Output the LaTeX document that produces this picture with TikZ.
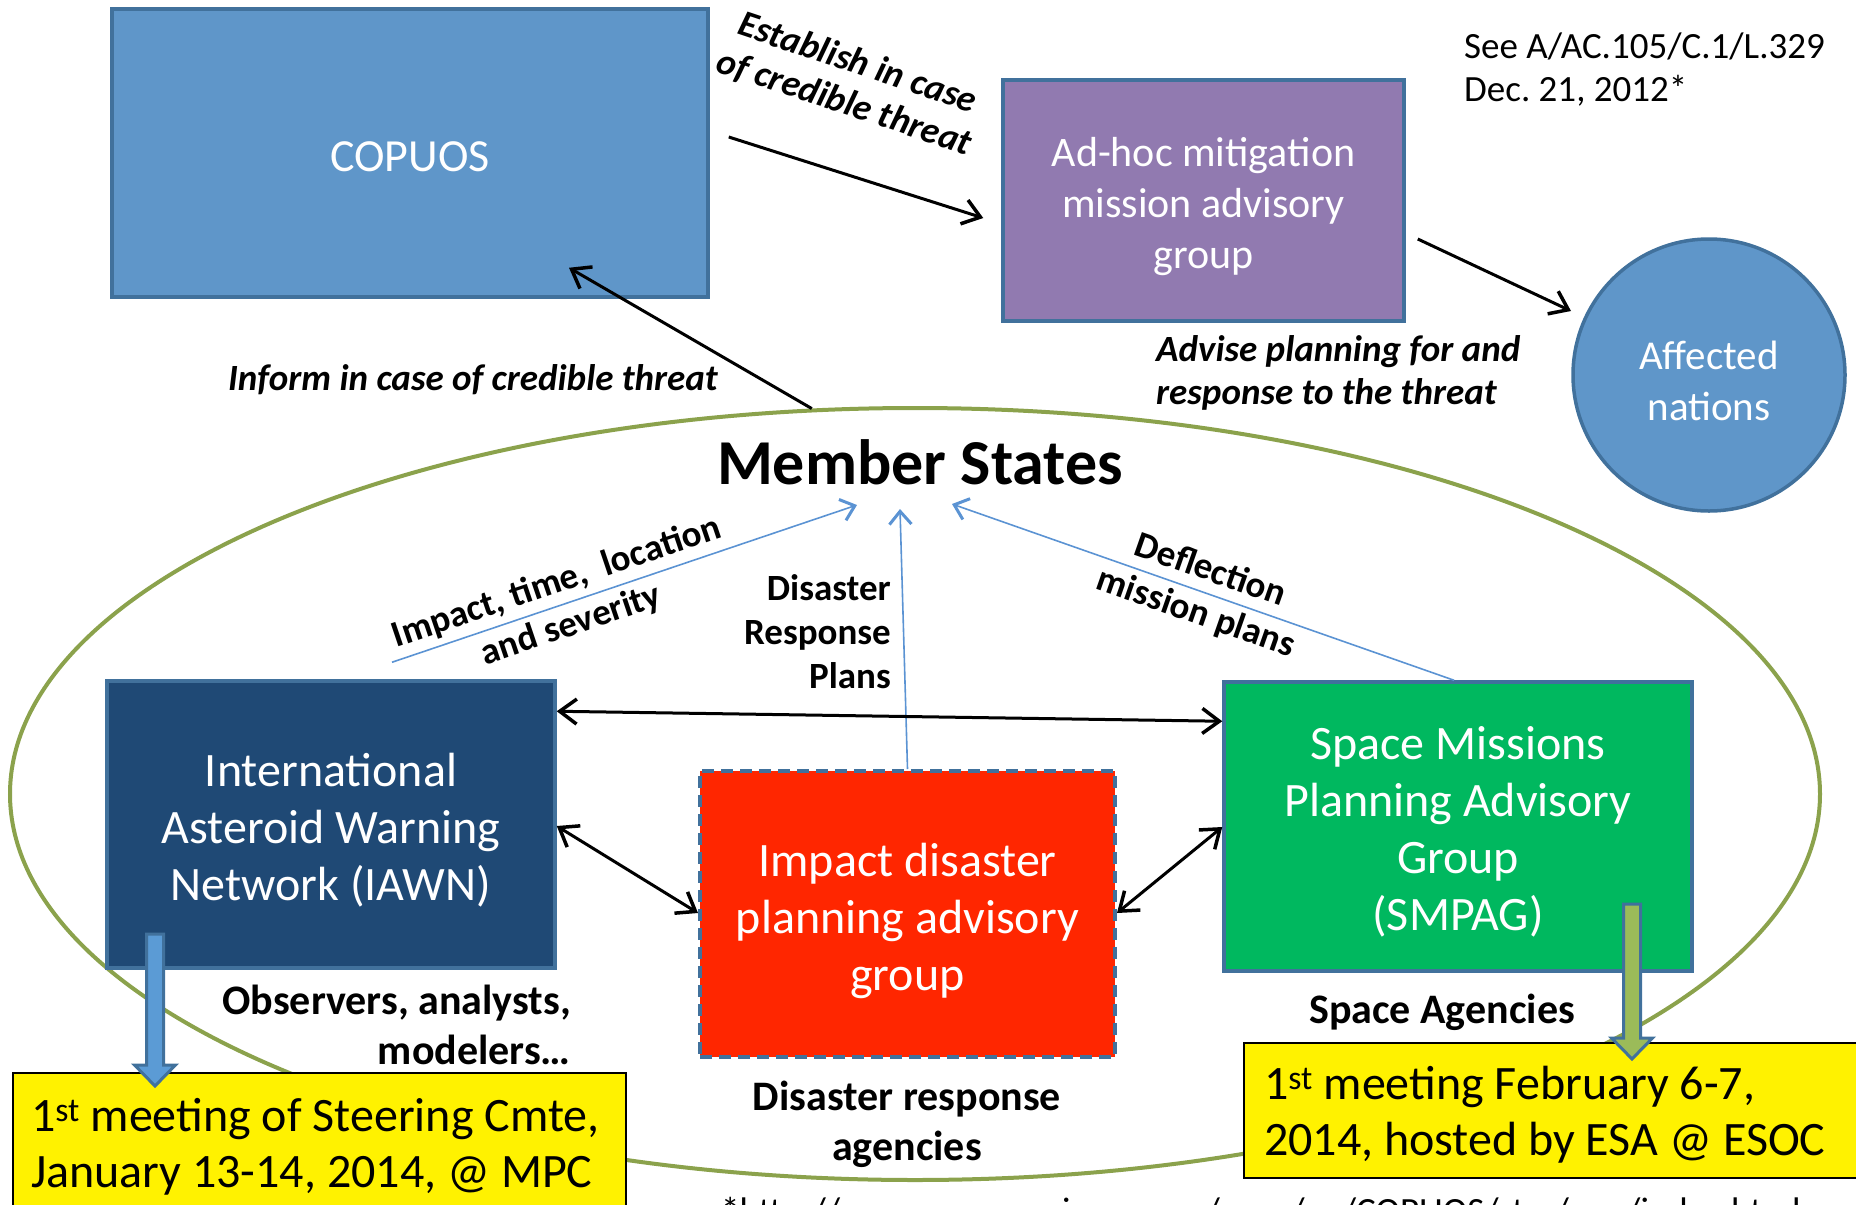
\documentclass[tikz,border=0pt]{standalone}
\usepackage{fontspec}
\setmainfont{Carlito}
\usetikzlibrary{arrows.meta,calc,shapes.geometric}
\definecolor{boxblue}{HTML}{5F96C9}
\definecolor{edgeblue}{HTML}{41719C}
\definecolor{purp}{HTML}{917AB0}
\definecolor{navy}{HTML}{1F4975}
\definecolor{redb}{HTML}{FF2600}
\definecolor{greenb}{HTML}{00B85F}
\definecolor{olive}{HTML}{8BA24C}
\definecolor{oliveL}{HTML}{9BBB59}
\definecolor{lineblue}{HTML}{5B93D3}
\definecolor{fatblue}{HTML}{5B9BD5}
\begin{document}
\begin{tikzpicture}[x=1pt,y=-1pt,
  box/.style={draw=edgeblue, line width=3.5pt, inner sep=0pt, text=white, align=flush center, execute at begin node={\spaceskip=0pt\xspaceskip=0pt}},
  lbl/.style={inner sep=0pt, text=black, font=\bfseries\fontsize{37}{44}\selectfont},
  lbli/.style={inner sep=0pt, text=black, font=\bfseries\itshape\fontsize{37}{43}\selectfont},
  blk/.style={black, line width=3pt, arrows={-{Straight Barb[length=17pt,width=25pt,line width=3.5pt]}}},
  dbl/.style={black, line width=3pt, arrows={{Straight Barb[length=17pt,width=25pt,line width=3.5pt]}-{Straight Barb[length=17pt,width=25pt,line width=3.5pt]}}},
  blu/.style={lineblue, line width=1.6pt, arrows={-{Straight Barb[length=13pt,width=22pt,line width=3pt]}}},
  yel/.style={draw=black, fill=yellow, line width=2pt, anchor=north west, inner ysep=0pt, align=flush left, execute at begin node={\spaceskip=0pt\xspaceskip=0pt}, font=\fontsize{48}{56}\selectfont},
  fat/.style={draw=edgeblue, line width=3pt, line join=miter}
]
\useasboundingbox (0,0) rectangle (1856,1205);
\clip (0,0) rectangle (1856,1205);

% Member States group
\node[ellipse, draw=olive, line width=4pt, minimum width=1810pt, minimum height=772pt, inner sep=0pt] (msell) at (915,794) {};
\node[inner sep=0pt, font=\bfseries\fontsize{64}{75}\selectfont] (mstitle) at (920,462) {Member States};

% boxes
\node[box, fill=boxblue, minimum width=596pt, minimum height=288pt, text width=576pt, text height=162pt, text depth=126pt, font=\fontsize{46}{55}\selectfont] (copuos) at (410,153) {COPUOS};
\node[box, fill=purp, minimum width=401pt, minimum height=241pt, text width=381pt, text height=86.6pt, text depth=154.4pt, font=\fontsize{42}{51}\selectfont] (adhoc) at (1203.5,200.5) {Ad-hoc mitigation\\mission advisory\\group};
\node[circle, draw=edgeblue, fill=boxblue, line width=3.5pt, minimum size=272pt, inner sep=0pt, text=white, align=center, font=\fontsize{41}{51}\selectfont] (aff) at (1709,375) {\rule{0pt}{40pt}Affected\\nations};
\node[box, fill=navy, minimum width=448pt, minimum height=287pt, text width=428pt, text height=105.4pt, text depth=181.6pt, font=\fontsize{48}{57}\selectfont] (iawn) at (331,824.5) {International\\Asteroid Warning\\Network (IAWN)};
\node[box, fill=redb, line width=4pt, dash pattern=on 12pt off 7pt, minimum width=415pt, minimum height=286pt, text width=395pt, text height=105.4pt, text depth=180.6pt, font=\fontsize{48}{57}\selectfont] (idpag) at (907.5,914) {Impact disaster\\planning advisory\\group};
\node[box, fill=greenb, minimum width=468pt, minimum height=289pt, text width=448pt, text height=77.4pt, text depth=211.6pt, font=\fontsize{48}{57}\selectfont] (smpag) at (1458,826.5) {Space Missions\\Planning Advisory\\Group\\(SMPAG)};

% reference text
\node[anchor=west, align=left, inner sep=0pt, font=\fontsize{37}{43}\selectfont] (ref) at (1464,70) {See A/AC.105/C.1/L.329\\Dec.\ 21, 2012*};

% top arrows and labels
\draw[blk] ($(copuos.east)+(19,-16)$) -- ($(adhoc.west)+(-18,17.5)$);
\node[lbli, rotate=-18.5, align=center, font=\bfseries\itshape\fontsize{37}{42}\selectfont] (lestab) at (851,83) {Establish in case\\of credible threat};
\draw[blk] ($(adhoc.east)+(12,38.5)$) -- ($(aff.center)+(-138,-64)$);
\node[lbli, anchor=west, align=left] (ladv) at (1156,373) {Advise planning for and\\response to the threat};
\draw[blk] (msell.105.3) -- ($(copuos.south)+(159,-31)$);
\node[lbli, anchor=east] (linf) at (718,380) {Inform in case of credible threat};

% blue arrows to Member States
\coordinate (ms1) at (857,505);
\coordinate (ms2) at (900,509);
\coordinate (ms3) at (952,504);
\draw[blu] ($(iawn.north)+(61,-17)$) -- node[lbl, sloped, pos=0.37, align=center, font=\bfseries\fontsize{37}{45}\selectfont] (limp) {Impact, time,\ \ location\\and severity} (ms1);
\draw[blu] (idpag.north) -- (ms2);
\node[lbl, anchor=east, align=right] (ldrp) at (891,632) {Disaster\\Response\\Plans};
\draw[blu] ($(smpag.north)+(-4,0)$) -- node[lbl, sloped, pos=0.5, align=center, font=\bfseries\fontsize{37}{45}\selectfont] (ldef) {Deflection\\mission plans} (ms3);

% black double arrows
\draw[dbl] ($(iawn.north east)+(0,32)$) -- ($(smpag.north west)+(0,41)$);
\draw[dbl] ($(iawn.east)+(0,1.5)$) -- ($(idpag.west)+(0,-1)$);
\draw[dbl] ($(idpag.east)+(0,-1)$) -- ($(smpag.west)+(0,0.5)$);

% bottom labels
\node[lbl, anchor=east, align=right, font=\bfseries\fontsize{42}{50}\selectfont] (lobs) at (571,1025) {Observers, analysts,\\modelers…};
\node[lbl, align=center, font=\bfseries\fontsize{42}{50}\selectfont] (ldra) at (907,1124) {Disaster response\\agencies};
\node[lbl, font=\bfseries\fontsize{42}{50}\selectfont] (lspace) at (1442,1012) {Space Agencies};

% meeting boxes
\node[yel, inner xsep=18pt, text height=58pt, text depth=200pt, text width=577pt] (meet1) at (12,1072) {\mbox{1\textsuperscript{st} meeting of Steering Cmte,}\\\mbox{January 13-14, 2014, @ MPC}};
\node[yel, inner xsep=20pt, text height=56pt, text depth=79pt, text width=700pt] (meet2) at (1243,1042) {\mbox{1\textsuperscript{st} meeting February 6-7,}\\\mbox{2014, hosted by ESA @ ESOC}};

% block arrows
\draw[fat, fill=fatblue] (146.5,934) -- (163.5,934) -- (163.5,1065) -- (175.5,1065) -- (155,1086) -- (134.5,1065) -- (146.5,1065) -- cycle;
\draw[fat, fill=oliveL] (1623.5,904) -- (1640.5,904) -- (1640.5,1038) -- (1652.5,1038) -- (1632,1059) -- (1611.5,1038) -- (1623.5,1038) -- cycle;

% footnote (cut by the page edge)
\node[anchor=base west, inner sep=0pt, font=\fontsize{37}{44}\selectfont] (foot) at (721,1223) {*http://www.oosa.unvienna.org/oosa/en/COPUOS/stsc/neo/index.html};
\end{tikzpicture}
\end{document}
